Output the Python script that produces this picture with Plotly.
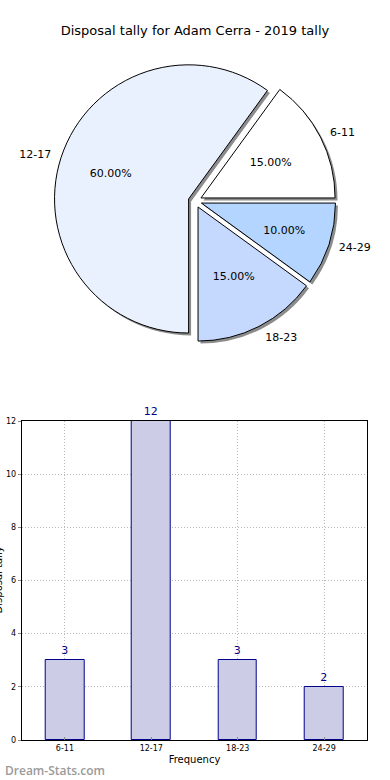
import plotly.graph_objects as go

# ---- data ----
categories = ["6-11", "12-17", "18-23", "24-29"]
tally = [3, 12, 3, 2]
y_ticks = [0, 2, 4, 6, 8, 10, 12]
title_text = "Disposal tally for Adam Cerra - 2019 tally"
x_title = "Frequency"
y_title = "Disposal tally"
watermark = "Dream-Stats.com"

pie_colors = ["#ffffff", "#eaf1fe", "#c5d8fe", "#b3d5ff"]
pull = [0.05, 0.05, 0.05, 0.05]
FONT = "DejaVu Sans"

W, H = 390, 780
total = sum(tally)
pct = ["{:.2f}%".format(100 * v / total) for v in tally]
big = max(range(len(tally)), key=lambda i: tally[i])


def px(x):
    return x / W


def py(y):
    return 1 - y / H


CX, CY, HALF = 195, 201, 143
ROT = 36


def dom(scale=1.0, dx=0.0, dy=0.0):
    h = HALF * scale
    return dict(x=[px(CX - h + dx), px(CX + h + dx)],
                y=[py(CY + h + dy), py(CY - h + dy)])


common = dict(labels=categories, values=tally, sort=False,
              direction="counterclockwise", rotation=ROT, pull=pull,
              showlegend=False)
clear = dict(colors=["rgba(0,0,0,0)"] * 4, line=dict(width=0))
tfont = dict(family=FONT, size=11, color="black")

fig = go.Figure()

# shadow
fig.add_trace(go.Pie(**common, textinfo="none", hoverinfo="skip",
                     marker=dict(colors=["#8c8c8c"] * 4, line=dict(width=0)),
                     domain=dom(1.0, 2.5, 2.5)))
# main pie
fig.add_trace(go.Pie(**common, textinfo="none",
                     marker=dict(colors=pie_colors, line=dict(width=1, color="black")),
                     domain=dom()))
# percent labels for the small slices
fig.add_trace(go.Pie(**common, hoverinfo="skip", textinfo="text",
                     text=["" if i == big else p for i, p in enumerate(pct)],
                     textposition="inside", insidetextorientation="horizontal",
                     textfont=tfont, marker=clear, domain=dom(0.86)))
# percent label for the big slice
fig.add_trace(go.Pie(**common, hoverinfo="skip", textinfo="text",
                     text=[p if i == big else "" for i, p in enumerate(pct)],
                     textposition="inside", insidetextorientation="horizontal",
                     textfont=tfont, marker=clear, domain=dom(1.2)))
# outside category labels
fig.add_trace(go.Pie(**common, hoverinfo="skip", textinfo="label",
                     textposition="outside", textfont=tfont, marker=clear,
                     domain=dom(1.05)))

# bar chart
fig.add_trace(go.Bar(
    x=categories, y=tally, width=0.45, showlegend=False,
    marker=dict(color="rgb(204,204,230)", line=dict(color="#00008b", width=1)),
    text=[str(v) for v in tally], textposition="outside", cliponaxis=False,
    textfont=dict(family=FONT, size=11, color="#00008b"),
))

grid = dict(showgrid=True, gridcolor="#b8b8b8", griddash="1px,2px", gridwidth=1)
fig.update_layout(
    width=W, height=H,
    margin=dict(l=0, r=0, t=0, b=0),
    paper_bgcolor="white", plot_bgcolor="white",
    font=dict(family=FONT, color="black"),
    title=dict(text=title_text, x=0.5, xanchor="center", y=py(30), yanchor="middle",
               yref="container",
               font=dict(family=FONT, size=13, color="black")),
    xaxis=dict(domain=[px(19), px(370)], range=[-0.5, 3.5], type="category",
               automargin=False,
               showline=True, linecolor="black", linewidth=1, mirror=True,
               ticks="inside", ticklen=3, tickcolor="#888",
               tickfont=dict(size=8, family=FONT),
               title=dict(text=x_title, font=dict(size=10, family=FONT), standoff=4),
               zeroline=False, **grid),
    yaxis=dict(domain=[py(740), py(421)], range=[0, 12], tickvals=y_ticks,
               automargin=False,
               showline=True, linecolor="black", linewidth=1, mirror=True,
               ticks="outside", ticklen=3, tickcolor="#888",
               tickfont=dict(size=8, family=FONT), zeroline=False, **grid),
    bargap=0,
    annotations=[
        dict(text=y_title, xref="paper", yref="paper", x=-0.012, y=py(580),
             textangle=-90, showarrow=False, xanchor="center", yanchor="middle",
             font=dict(family=FONT, size=10, color="black")),
        dict(text=watermark, xref="paper", yref="paper",
             x=0, y=py(770), xanchor="left", yanchor="middle", showarrow=False,
             font=dict(family="Open Sans", size=12, color="#9a9a9a", weight=600)),
    ],
)

fig.write_html("out.html", config={"displayModeBar": False},
               post_script="document.body.style.margin='0px';")
